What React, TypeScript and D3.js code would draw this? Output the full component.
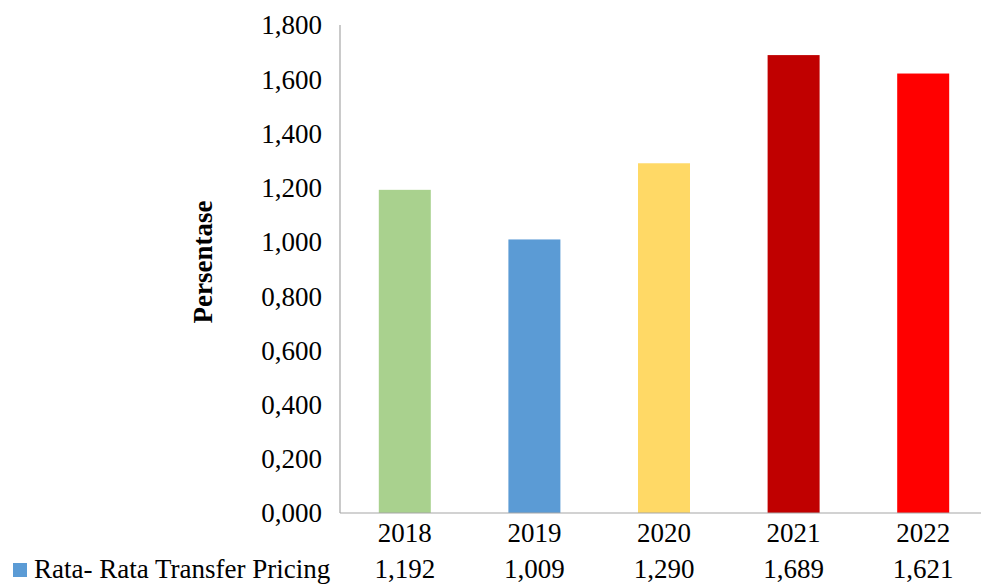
import React from "react";
import * as d3 from "d3";

const categories = ["2018", "2019", "2020", "2021", "2022"];
const values = [1.192, 1.009, 1.29, 1.689, 1.621];
const valueLabels = ["1,192", "1,009", "1,290", "1,689", "1,621"];
const colors = ["#A9D18E", "#5B9BD5", "#FFD966", "#C00000", "#FF0000"];
const yTicks = [0, 0.2, 0.4, 0.6, 0.8, 1.0, 1.2, 1.4, 1.6, 1.8];
const seriesName = "Rata- Rata Transfer Pricing";
const seriesColor = "#5B9BD5";

const W = 981;
const H = 585;
const left = 340;
const right = 988;
const top = 25;
const bottom = 513;

const fmt = (v: number) => v.toFixed(3).replace(".", ",");

export default function App() {
  const xc = d3.scaleBand<string>().domain(categories).range([left, right]);
  const y = d3.scaleLinear().domain([0, 1.8]).range([bottom, top]);
  const barW = 52;
  const font = "'Liberation Serif', 'Times New Roman', serif";
  return (
    <svg width={W} height={H} style={{ position: "absolute", left: 0, top: 0, background: "#fff" }} fontFamily={font}>
      {yTicks.map((t) => (
        <text key={t} x={322} y={y(t)} dy="0.35em" textAnchor="end" fontSize={27} fill="#000">
          {fmt(t)}
        </text>
      ))}
      {categories.map((c, i) => {
        const cx = (xc(c) as number) + xc.bandwidth() / 2;
        return (
          <rect key={c} x={cx - barW / 2} y={y(values[i])} width={barW} height={bottom - y(values[i])} fill={colors[i]} />
        );
      })}
      <line x1={left} x2={left} y1={top} y2={bottom} stroke="#A6A6A6" strokeWidth={1.2} />
      <line x1={left} x2={W} y1={bottom} y2={bottom} stroke="#A6A6A6" strokeWidth={1.2} />
      {categories.map((c, i) => {
        const cx = (xc(c) as number) + xc.bandwidth() / 2;
        return (
          <g key={"l" + c}>
            <text x={cx} y={542} textAnchor="middle" fontSize={27} fill="#000">{c}</text>
            <text x={cx} y={578} textAnchor="middle" fontSize={27} fill="#000">{valueLabels[i]}</text>
          </g>
        );
      })}
      <rect x={13} y={563} width={14} height={14} fill={seriesColor} />
      <text x={34} y={578} fontSize={27} fill="#000">{seriesName}</text>
      <text transform={`translate(212, 262) rotate(-90)`} textAnchor="middle" fontSize={27} fontWeight="bold" fill="#000">
        Persentase
      </text>
    </svg>
  );
}
